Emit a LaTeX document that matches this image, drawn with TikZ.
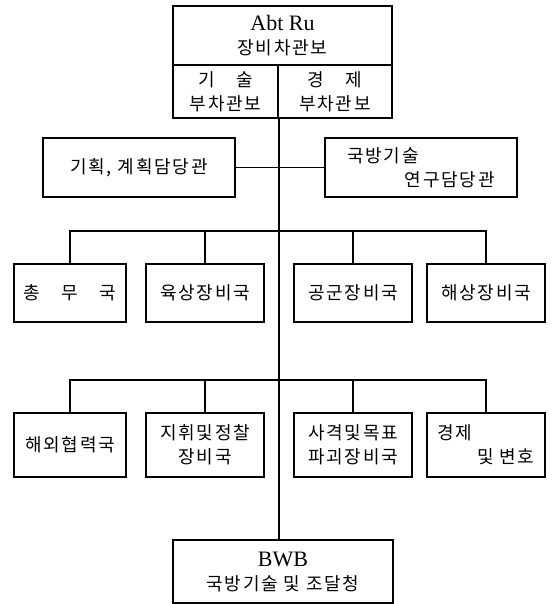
\documentclass[tikz,border=0pt]{standalone}
\usepackage{fontspec}
\setmainfont{Liberation Serif}
\newfontfamily\kr[LetterSpace=10]{Noto Sans CJK KR}
\usetikzlibrary{positioning}
\newcommand{\boxline}{2pt}
\newcommand{\gapword}{\hspace{1.2em}}
\tikzset{
  office/.style={draw, line width=\boxline, inner sep=0pt, align=center,
    font=\kr\fontsize{18}{24}\selectfont},
  link/.style={line width=1.6pt}
}

\begin{document}
\begin{tikzpicture}[x=1pt, y=-1pt]
        \useasboundingbox (0,0) rectangle (553,604);
        % Staatssekretaer and the two deputies
        \node[office, minimum width=219pt, minimum height=59pt] (top) at (282.5,35.5)
        {{\rmfamily\fontsize{22}{24}\selectfont Abt\ Ru}\\장비차관보};
        \node[office, minimum width=105pt, minimum height=53pt] (tech) at (225.5,91.5)
        {기\gapword 술\\부차관보};
        \node[office, minimum width=114pt, minimum height=53pt] (econ) at (335,91.5)
        {경\gapword 제\\부차관보};
        % staff officers
        \node[office, minimum width=192pt, minimum height=59pt] (plan) at (139,167.5)
        {기획,\ 계획담당관};
        \node[office, minimum width=192pt, minimum height=59pt, align=left] (research) at (421,167.5)
        {국방기술\\\hspace*{3.2em}연구담당관};
        % first row of directorates
        \node[office, minimum width=112pt, minimum height=58pt] (admin) at (70,293)
        {총\gapword 무\gapword 국};
        \node[office, minimum width=118pt, minimum height=58pt] (army) at (205,293)
        {육상장비국};
        \node[office, minimum width=118pt, minimum height=58pt] (air) at (353,293)
        {공군장비국};
        \node[office, minimum width=118pt, minimum height=58pt] (navy) at (486,293)
        {해상장비국};
        % second row of directorates
        \node[office, minimum width=112pt, minimum height=64pt] (foreign) at (70,445)
        {해외협력국};
        \node[office, minimum width=118pt, minimum height=64pt] (command) at (205,445)
        {지휘및정찰\\장비국};
        \node[office, minimum width=118pt, minimum height=64pt] (weapons) at (353,445)
        {사격및목표\\파괴장비국};
        \node[office, minimum width=118pt, minimum height=64pt, align=left] (economy) at (486,445)
        {경제\\\hspace*{2.2em}및 변호};
        % federal office
        \node[office, minimum width=220pt, minimum height=63pt] (bwb) at (283,571.5)
        {{\rmfamily\fontsize{22}{24}\selectfont BWB}\\국방기술 및 조달청};
        % connectors
        \coordinate (busone) at (278,231);
        \coordinate (bustwo) at (278,380);
        \draw[link] (tech.south east) -- (tech.south east |- bwb.north);
        \draw[link] (plan.east) -- (research.west);
        \draw[link] (admin.north) -- (admin.north |- busone) -- (navy.north |- busone) -- (navy.north);
        \draw[link] (foreign.north) -- (foreign.north |- bustwo) -- (economy.north |- bustwo) -- (economy.north);
        \foreach \unit in {army, air}
            \draw[link] (\unit.north) -- (\unit.north |- busone);
        \foreach \unit in {command, weapons}
            \draw[link] (\unit.north) -- (\unit.north |- bustwo);
    \end{tikzpicture}
\end{document}
